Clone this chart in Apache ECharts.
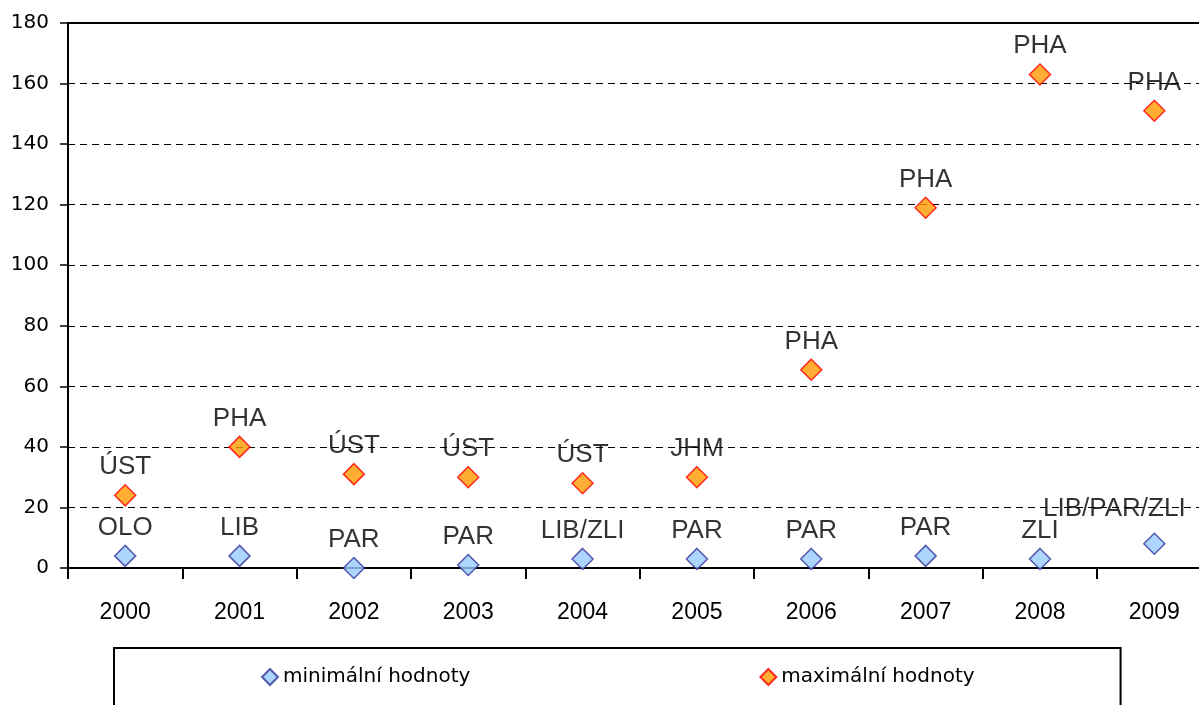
<!DOCTYPE html>
<html>
<head>
<meta charset="utf-8">
<script src="https://cdn.jsdelivr.net/npm/echarts@6/dist/echarts.min.js"></script>
<style>html,body{margin:0;padding:0;background:#fff;overflow:hidden;width:1199px;height:705px}#c{width:1214px;height:705px}</style>
</head>
<body>
<div id="c"></div>
<script>
var years = ['2000','2001','2002','2003','2004','2005','2006','2007','2008','2009'];
var minVals = [4, 4, 0, 1, 3, 3, 3, 4, 3, 8];
var maxVals = [24, 40, 31, 30, 28, 30, 65.5, 119, 163, 151];
var minLabels = ['OLO','LIB','PAR','PAR','LIB/ZLI','PAR','PAR','PAR','ZLI','LIB/PAR/ZLI'];
var maxLabels = ['ÚST','PHA','ÚST','ÚST','ÚST','JHM','PHA','PHA','PHA','PHA'];
var seriesNames = ['minimální hodnoty', 'maximální hodnoty'];

function build(vals, labels) {
  return vals.map(function (v, i) {
    var d = { value: v, name: labels[i] };
    if (labels[i] === 'LIB/PAR/ZLI') {
      d.label = { offset: [-40, -7] };
    }
    return d;
  });
}

var chart = echarts.init(document.getElementById('c'));
var labelStyle = {
  show: true, position: 'top', distance: 4,
  formatter: function (p) { return p.name; },
  fontFamily: 'Liberation Sans, Arial, sans-serif', fontSize: 26, color: '#000'
};
chart.setOption({
  animation: false,
  backgroundColor: '#fff',
  grid: { left: 68, top: 23, height: 545, width: 1143.5 },
  xAxis: [{
    type: 'category', data: years, position: 'bottom',
    axisLine: { lineStyle: { color: '#000', width: 2 } },
    axisTick: { show: true, length: 11, lineStyle: { color: '#000', width: 2 } },
    axisLabel: { color: '#000', fontFamily: 'Liberation Sans, Arial, sans-serif', fontSize: 23, margin: 33 },
    splitLine: { show: false }
  }, {
    type: 'category', data: years, position: 'top',
    axisLine: { lineStyle: { color: '#000', width: 2 } },
    axisTick: { show: false }, axisLabel: { show: false }, splitLine: { show: false }
  }],
  yAxis: {
    type: 'value', min: 0, max: 180, interval: 20,
    axisLine: { show: true, lineStyle: { color: '#000', width: 2 } },
    axisTick: { show: true, length: 8, lineStyle: { color: '#000', width: 1.5 } },
    axisLabel: { color: '#000', fontFamily: 'DejaVu Sans, sans-serif', fontSize: 20, margin: 19 },
    splitLine: { show: true, lineStyle: { color: '#000', width: 1, type: [7, 5] } }
  },
  legend: {
    left: 114, top: 648,
    padding: [19, 146, 40, 147],
    borderColor: '#000', borderWidth: 2,
    itemGap: 289, itemWidth: 16, itemHeight: 16,
    icon: 'diamond',
    textStyle: { color: '#000', fontFamily: 'DejaVu Sans, sans-serif', fontSize: 20 },
    data: seriesNames
  },
  series: [{
    name: seriesNames[0], type: 'scatter', symbol: 'diamond', symbolSize: 21, clip: false,
    itemStyle: { color: '#99CCFF', borderColor: '#333399', borderWidth: 1.5 },
    label: labelStyle,
    data: build(minVals, minLabels)
  }, {
    name: seriesNames[1], type: 'scatter', symbol: 'diamond', symbolSize: 21, clip: false,
    itemStyle: { color: '#FF9900', borderColor: '#FF0000', borderWidth: 1.5 },
    label: labelStyle,
    data: build(maxVals, maxLabels)
  }]
});
</script>
</body>
</html>
